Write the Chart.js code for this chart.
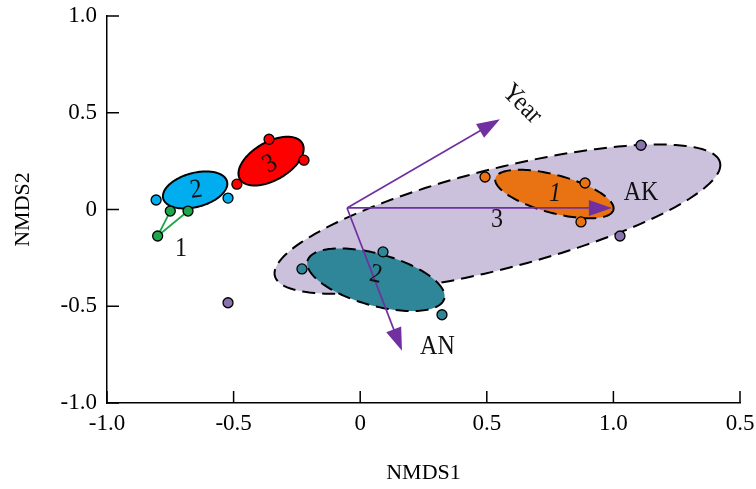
<!DOCTYPE html>
<html><head><meta charset="utf-8">
<script src="https://cdn.jsdelivr.net/npm/chart.js@4.4.1/dist/chart.umd.min.js"></script>
<style>html,body{margin:0;padding:0;background:#fff}#wrap{width:756px;height:489px}</style>
</head><body><div id="wrap"><canvas id="c" width="756" height="489"></canvas></div>
<script>
// ---- data ----
const xTickLabels = ["-1.0","-0.5","0","0.5","1.0","0.5"];
const yTickLabels = ["-1.0","-0.5","0","0.5","1.0"];
const greenPts  = [[-0.80,-0.137],[-0.75,-0.008],[-0.68,-0.008]];
const bluePts   = [[-0.806,0.049],[-0.522,0.059]];
const redPts    = [[-0.36,0.363],[-0.222,0.255],[-0.487,0.131]];
const purplePts = [[1.109,0.332],[1.026,-0.137],[-0.522,-0.482]];
const orangePts = [[0.493,0.168],[0.888,0.137],[0.872,-0.064]];
const tealPts   = [[-0.23,-0.307],[0.09,-0.219],[0.323,-0.544]];
// ellipses: center, major semi-axis vector, minor semi-axis vector (data units)
const ellPurple = {c:[0.542,-0.050], u:[0.879,0.294], v:[0.049,-0.250]};
const ellOrange = {c:[0.767,0.080], u:[0.233,-0.082], v:[-0.019,-0.095]};
const ellTeal   = {c:[0.062,-0.363], u:[0.270,-0.098], v:[-0.027,-0.129]};
const ellBlue   = {c:[-0.652,0.101], u:[0.126,0.044], v:[0.017,-0.085]};
const ellRed    = {c:[-0.352,0.250], u:[0.123,0.093], v:[0.038,-0.085]};
// env-fit arrows
const arrowOrigin = [-0.052,0.008];
const arrowNames = ["Year","AK","AN"];
const arrowTips  = [[0.552,0.466],[0.994,0.008],[0.165,-0.73]];
// text annotations
const annoText = ["Year","AK","AN","1","2","3","1","2","3"];
const annoPos  = [[0.639,0.545],[1.109,0.085],[0.305,-0.709],[-0.708,-0.203],[-0.648,0.100],[-0.356,0.234],[0.769,0.080],[0.062,-0.338],[0.540,-0.055]];
const annoRot  = [45,0,0,0,-8,-30,0,12,0];
const annoItalic = [false,false,false,false,false,false,true,false,false];

const FONT = '"Liberation Serif","Times New Roman",serif';
const toXY = a => a.map(p => ({x:p[0], y:p[1]}));

function ellipsePath(ctx, xs, ys, e){
  ctx.beginPath();
  const n = 160;
  for (let i=0;i<=n;i++){
    const t = i/n*2*Math.PI;
    const dx = e.c[0] + e.u[0]*Math.cos(t) + e.v[0]*Math.sin(t);
    const dy = e.c[1] + e.u[1]*Math.cos(t) + e.v[1]*Math.sin(t);
    const px = xs.getPixelForValue(dx), py = ys.getPixelForValue(dy);
    if (i===0) ctx.moveTo(px,py); else ctx.lineTo(px,py);
  }
  ctx.closePath();
}

const ellipsePlugin = {
  id:'ellipses',
  beforeDatasetsDraw(chart){
    const ctx = chart.ctx, xs = chart.scales.x, ys = chart.scales.y;
    const list = [
      [ellPurple,'#cbc1dc',[13,7]],
      [ellOrange,'#e97312',[13,7]],
      [ellTeal,'#2e8698',[13,7]],
      [ellBlue,'#00aeef',[]],
      [ellRed,'#ff0000',[]]
    ];
    ctx.save();
    for (const [e,col,dash] of list){
      ellipsePath(ctx,xs,ys,e);
      ctx.fillStyle = col; ctx.fill();
      ctx.setLineDash(dash); ctx.lineWidth = 2; ctx.strokeStyle = '#000'; ctx.stroke();
    }
    ctx.setLineDash([]);
    // green connectors
    ctx.strokeStyle = '#1fa64a'; ctx.lineWidth = 1.8;
    ctx.beginPath();
    ctx.moveTo(xs.getPixelForValue(greenPts[0][0]), ys.getPixelForValue(greenPts[0][1]));
    ctx.lineTo(xs.getPixelForValue(greenPts[1][0]), ys.getPixelForValue(greenPts[1][1]));
    ctx.moveTo(xs.getPixelForValue(greenPts[0][0]), ys.getPixelForValue(greenPts[0][1]));
    ctx.lineTo(xs.getPixelForValue(greenPts[2][0]), ys.getPixelForValue(greenPts[2][1]));
    ctx.stroke();
    ctx.restore();
  },
  afterDatasetsDraw(chart){
    const ctx = chart.ctx, xs = chart.scales.x, ys = chart.scales.y;
    ctx.save();
    // arrows
    const ox = xs.getPixelForValue(arrowOrigin[0]), oy = ys.getPixelForValue(arrowOrigin[1]);
    ctx.strokeStyle = '#7030a0'; ctx.fillStyle = '#7030a0'; ctx.lineWidth = 1.7;
    for (const tip of arrowTips){
      const tx = xs.getPixelForValue(tip[0]), ty = ys.getPixelForValue(tip[1]);
      const ang = Math.atan2(ty-oy, tx-ox);
      const L = 23, W = 8;
      const bx = tx - L*Math.cos(ang), by = ty - L*Math.sin(ang);
      ctx.beginPath(); ctx.moveTo(ox,oy); ctx.lineTo(bx+2*Math.cos(ang),by+2*Math.sin(ang)); ctx.stroke();
      ctx.beginPath();
      ctx.moveTo(tx,ty);
      ctx.lineTo(bx + W*Math.sin(ang), by - W*Math.cos(ang));
      ctx.lineTo(bx - W*Math.sin(ang), by + W*Math.cos(ang));
      ctx.closePath(); ctx.fill();
    }
    // text
    ctx.fillStyle = '#111'; ctx.textAlign = 'center'; ctx.textBaseline = 'middle';
    annoText.forEach((t,i)=>{
      const px = xs.getPixelForValue(annoPos[i][0]), py = ys.getPixelForValue(annoPos[i][1]);
      ctx.save(); ctx.translate(px,py); ctx.rotate(annoRot[i]*Math.PI/180);
      ctx.scale(1,1.12);
      ctx.font = (annoItalic[i]?'italic ':'') + '24px ' + FONT;
      ctx.fillText(t,0,0); ctx.restore();
    });
    // inward ticks
    ctx.strokeStyle = '#000'; ctx.lineWidth = 1.5;
    ctx.beginPath();
    xs.ticks.forEach(tk=>{ const p = xs.getPixelForValue(tk.value); ctx.moveTo(p, xs.top); ctx.lineTo(p, xs.top-12); });
    ys.ticks.forEach(tk=>{ const p = ys.getPixelForValue(tk.value); ctx.moveTo(ys.right, p); ctx.lineTo(ys.right+12, p); });
    ctx.stroke();
    ctx.restore();
  }
};

function ptSet(pts,col){
  return {data:toXY(pts), backgroundColor:col, borderColor:'#000', borderWidth:1.3, pointRadius:5, pointHoverRadius:5};
}

new Chart(document.getElementById('c'), {
  type:'scatter',
  data:{datasets:[
    ptSet(greenPts,'#1fa64a'), ptSet(bluePts,'#00aeef'), ptSet(redPts,'#ff0000'),
    ptSet(purplePts,'#8873ad'), ptSet(orangePts,'#e97312'), ptSet(tealPts,'#2e8698')
  ]},
  options:{
    responsive:false, animation:false, devicePixelRatio:1,
    layout:{padding:{top:16,right:16,left:0,bottom:0}},
    plugins:{legend:{display:false}, tooltip:{enabled:false}},
    scales:{
      x:{type:'linear', min:-1, max:1.5,
        afterFit(s){ s.height = 86; s.paddingLeft = 0; s.paddingRight = 0; },
        afterBuildTicks(s){ s.ticks = xTickLabels.map((_,i)=>({value:-1+0.5*i})); },
        ticks:{color:'#000', font:{family:FONT,size:23}, padding:7, maxRotation:0,
          callback:(v,i)=>xTickLabels[i]},
        grid:{display:true, drawOnChartArea:false, drawTicks:false},
        border:{display:true, color:'#000', width:1.5},
        title:{display:true, text:'NMDS1', color:'#000', font:{family:FONT,size:22}, padding:{top:0,bottom:3}}
      },
      y:{type:'linear', min:-1, max:1,
        afterFit(s){ s.width = 107; s.paddingTop = 0; s.paddingBottom = 0; },
        afterBuildTicks(s){ s.ticks = yTickLabels.map((_,i)=>({value:-1+0.5*i})); },
        ticks:{color:'#000', font:{family:FONT,size:23}, padding:10,
          callback:(v,i)=>yTickLabels[i]},
        grid:{display:true, drawOnChartArea:false, drawTicks:false},
        border:{display:true, color:'#000', width:1.5},
        title:{display:true, text:'NMDS2', color:'#000', font:{family:FONT,size:22}, padding:{top:10,bottom:0}}
      }
    }
  },
  plugins:[ellipsePlugin]
});
</script></body></html>
